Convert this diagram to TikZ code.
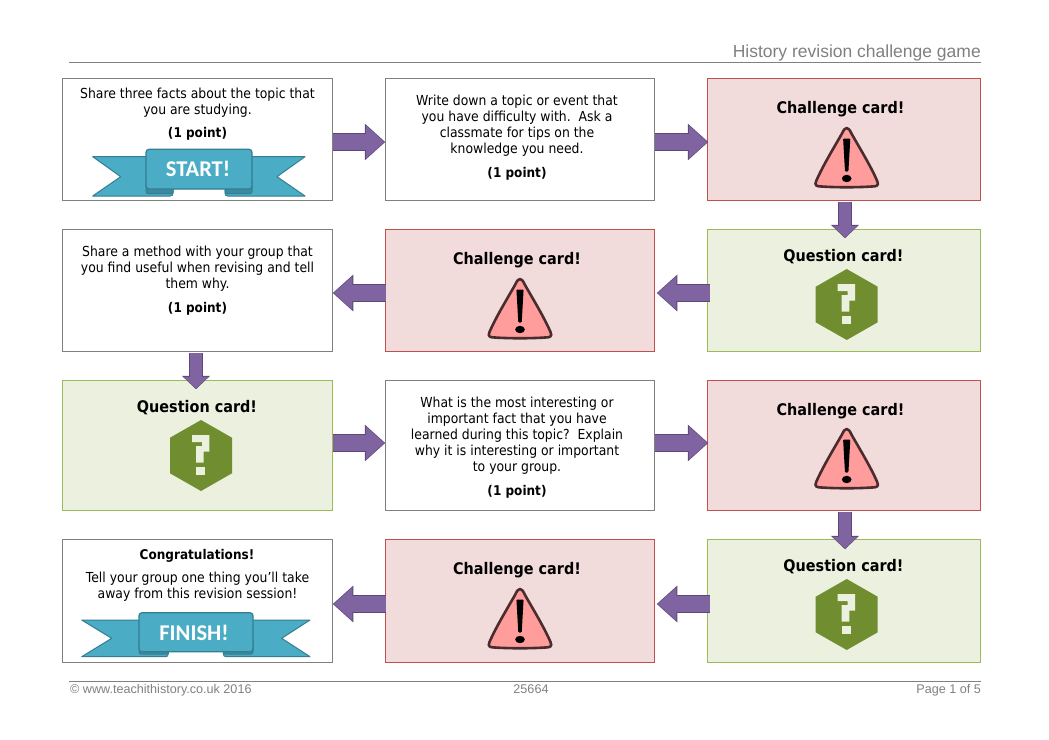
\documentclass[tikz,border=0pt]{standalone}
\usepackage{fontspec}
\setmainfont{DejaVu Sans}[FakeStretch=0.9]
\newfontfamily\headfont{Liberation Sans}
\newfontfamily\ribbonfont{Carlito}
\usetikzlibrary{arrows.meta}
\definecolor{rulegrey}{HTML}{808080}
\definecolor{pinkfill}{HTML}{F2DCDB}
\definecolor{pinkline}{HTML}{C0504D}
\definecolor{greenfill}{HTML}{EBF1DE}
\definecolor{greenline}{HTML}{9BBB59}
\definecolor{hexgreen}{HTML}{708D2F}
\definecolor{arrowfill}{HTML}{8064A2}
\definecolor{arrowline}{HTML}{5C4776}
\definecolor{warnfill}{HTML}{FF9C9C}
\definecolor{warnline}{HTML}{4A2C2E}
\definecolor{ribbonfill}{HTML}{4BACC6}
\definecolor{ribbonline}{HTML}{357D91}
\definecolor{ribbonfold}{HTML}{3C8A9F}
\tikzset{
  card/.style={inner sep=0pt, outer sep=0pt, line width=1pt, minimum width=270.5pt, minimum height=122.5pt},
  plaincard/.style={card, draw=rulegrey, fill=white},
  redcard/.style={card, draw=pinkline, fill=pinkfill},
  greencard/.style={card, draw=greenline, fill=greenfill},
  cardtext/.style={inner sep=0pt, align=center, font=\fontsize{13.8}{16}\selectfont},
  pointtext/.style={inner sep=0pt, font=\fontsize{13.4}{16}\selectfont\bfseries},
  cardtitle/.style={inner sep=0pt, font=\fontsize{16}{18}\selectfont\bfseries},
  ribbontext/.style={inner sep=0pt, text=white, font=\ribbonfont\fontsize{22.5}{24}\selectfont\bfseries},
  ribbontail/.style={draw=ribbonline, fill=ribbonfill, line width=1pt, line join=round},
  ribbonband/.style={draw=ribbonline, fill=ribbonfill, line width=1.2pt, rounded corners=3pt},
  ribbondark/.style={draw=ribbonline, fill=ribbonfold, line width=1pt, rounded corners=2pt},
  footertext/.style={inner sep=0pt, text=rulegrey, font=\headfont\fontsize{12.6}{14}\selectfont},
  flow/.style={line width=15.5pt, draw=arrowfill, shorten >=1pt, shorten <=0.7pt,
    -{Triangle[length=18.5pt,width=32pt,fill=arrowfill,color=arrowfill]},
    preaction={draw=arrowline, line width=17.5pt, shorten >=0pt, shorten <=0pt,
      -{Triangle[length=20.5pt,width=35.5pt,fill=arrowline,color=arrowline]}}},
  flowdown/.style={line width=11.5pt, draw=arrowfill, shorten >=1pt, shorten <=0.7pt,
    -{Triangle[length=11.5pt,width=24.5pt,fill=arrowfill,color=arrowfill]},
    preaction={draw=arrowline, line width=13.5pt, shorten >=0pt, shorten <=0pt,
      -{Triangle[length=13.5pt,width=27.5pt,fill=arrowline,color=arrowline]}}},
  warnsign/.pic={
    \draw [warnline, fill=warnfill, line width=2.6pt, line join=round]
      (0,-29) .. controls (2,-29) and (3,-27) .. (5,-23)
      .. controls (13,-9) and (24,9) .. (30.5,24)
      .. controls (33,29) and (29,29.5) .. (25,29.5)
      .. controls (10,30.5) and (-10,30.5) .. (-25,29.5)
      .. controls (-29,29.5) and (-33,29) .. (-30.5,24)
      .. controls (-24,9) and (-13,-9) .. (-5,-23)
      .. controls (-3,-27) and (-2,-29) .. (0,-29) -- cycle;
    \fill [black, rounded corners=1pt] (-3.6,-18.5) -- (3.6,-18.5) -- (1.7,14.5) -- (-1.7,14.5) -- cycle;
    \fill [black] (0,21.5) ellipse [x radius=4.8, y radius=3.7];
  },
  asksign/.pic={
    \fill [hexgreen] (0,-35.5) -- (31,-17.8) -- (31,17.8) -- (0,35.5) -- (-31,17.8) -- (-31,-17.8) -- cycle;
    \fill [greenfill] (-9,-20.5) -- (8.3,-20.5) -- (8.3,-3.8) -- (2.7,-3.8) -- (2.7,7.2) -- (-5,7.2)
      -- (-5,-9.5) -- (1,-9.5) -- (1,-13.5) -- (-9,-13.5) -- cycle;
    \fill [greenfill] (-5,11.5) rectangle (4,19.5);
  }
}

\begin{document}
\begin{tikzpicture}[x=1pt, y=-1pt]
\useasboundingbox (0,0) rectangle (1049,739);

% header and footer
\draw [rulegrey, line width=1pt] (69,62.5) -- (981,62.5);
\draw [rulegrey, line width=1pt] (69,681) -- (981,681);
\node [inner sep=0pt, anchor=base east, text=rulegrey, font=\headfont\fontsize{17.5}{20}\selectfont] (pagetitle) at (981,57) {History revision challenge game};
\node [footertext, anchor=base west] (copyright) at (70,693.5) {© www.teachithistory.co.uk 2016};
\node [footertext, anchor=base] (docnumber) at (531,693.5) {25664};
\node [footertext, anchor=base east] (pagenumber) at (981,693.5) {Page 1 of 5};

% cards
\node [plaincard] (startcard) at (197.5,139.5) {};
\node [plaincard, minimum width=269.5pt] (writecard) at (520,139.5) {};
\node [redcard, minimum width=273.5pt] (redone) at (844,139.5) {};
\node [greencard, minimum width=273.5pt] (greenone) at (844,290.5) {};
\node [redcard, minimum width=269.5pt] (redtwo) at (520,290.5) {};
\node [plaincard] (methodcard) at (197.5,290.5) {};
\node [greencard, minimum height=130.5pt] (greentwo) at (197.5,445.5) {};
\node [plaincard, minimum width=269.5pt, minimum height=130.5pt] (factcard) at (520,445.5) {};
\node [redcard, minimum width=273.5pt, minimum height=130.5pt] (redthree) at (844,445.5) {};
\node [greencard, minimum width=273.5pt, minimum height=123.5pt] (greenthree) at (844,601) {};
\node [redcard, minimum width=269.5pt, minimum height=123.5pt] (redfour) at (520,601) {};
\node [plaincard, minimum height=123.5pt] (finishcard) at (197.5,601) {};

% flow arrows
\draw [flow] ([yshift=-2.5pt]startcard.east) -- ([yshift=-2.5pt]writecard.west);
\draw [flow] ([yshift=-2.5pt]writecard.east) -- ([yshift=-2.5pt,xshift=1pt]redone.west);
\draw [flowdown] ([xshift=1pt,yshift=-1pt]redone.south) -- ([xshift=1pt,yshift=-9pt]greenone.north);
\draw [flow] ([xshift=3pt,yshift=-2.5pt]greenone.west) -- ([xshift=2pt,yshift=-2.5pt]redtwo.east);
\draw [flow] ([xshift=1pt,yshift=-2.5pt]redtwo.west) -- ([yshift=-2.5pt]methodcard.east);
\draw [flowdown] ([xshift=-1.5pt,yshift=-1pt]methodcard.south) -- ([xshift=-1.5pt,yshift=-9pt]greentwo.north);
\draw [flow] ([yshift=2.5pt]greentwo.east) -- ([yshift=2.5pt]factcard.west);
\draw [flow] ([yshift=2.5pt]factcard.east) -- ([yshift=2.5pt,xshift=1pt]redthree.west);
\draw [flowdown] ([xshift=1pt,yshift=-1pt]redthree.south) -- ([xshift=1pt,yshift=-10pt]greenthree.north);
\draw [flow] ([xshift=3pt,yshift=-3pt]greenthree.west) -- ([xshift=2pt,yshift=-3pt]redfour.east);
\draw [flow] ([xshift=1pt,yshift=-3pt]redfour.west) -- ([yshift=-3pt]finishcard.east);

% card texts
\node [cardtext] (starttext) at (197.5,102.5) {Share three facts about the topic that\\you are studying.};
\node [pointtext] (startpoint) at (197.5,133.5) {(1 point)};
\node [cardtext] (writetext) at (517,125.5) {Write down a topic or event that\\you have difficulty with.\ \ Ask a\\classmate for tips on the\\knowledge you need.};
\node [pointtext] (writepoint) at (517,173.5) {(1 point)};
\node [cardtext] (methodtext) at (197.5,268.5) {Share a method with your group that\\you find useful when revising and tell\\them why.};
\node [pointtext] (methodpoint) at (197.5,308.5) {(1 point)};
\node [cardtext] (facttext) at (517,435.5) {What is the most interesting or\\important fact that you have\\learned during this topic?\ \ Explain\\why it is interesting or important\\to your group.};
\node [pointtext] (factpoint) at (517,491.5) {(1 point)};
\node [pointtext] (finishhead) at (197,555.5) {Congratulations!};
\node [cardtext] (finishtext) at (197.5,586.5) {Tell your group one thing you’ll take\\away from this revision session!};

\node [cardtitle] (redonetitle) at (840.5,109.5) {Challenge card!};
\node [cardtitle] (redtwotitle) at (517,260.5) {Challenge card!};
\node [cardtitle] (redthreetitle) at (840.5,411.5) {Challenge card!};
\node [cardtitle] (redfourtitle) at (517,570.5) {Challenge card!};
\node [cardtitle] (greenonetitle) at (843.5,257) {Question card!};
\node [cardtitle] (greentwotitle) at (197,408) {Question card!};
\node [cardtitle] (greenthreetitle) at (843.5,567) {Question card!};

% icons
\pic at (846.7,157) {warnsign};
\pic at (520,308) {warnsign};
\pic at (846.7,458) {warnsign};
\pic at (520,618) {warnsign};
\pic at (846.7,304.5) {asksign};
\pic at (201,455.5) {asksign};
\pic at (846.7,614.5) {asksign};

% start ribbon
\draw [ribbontail] (92.7,156.7) -- (152,156.7) -- (152,180) -- (173,180) -- (173,193) .. controls (173,195) and (172,196) .. (170,196) -- (92.7,196) -- (120.7,176.7) -- cycle;
\draw [ribbontail] (305,156.7) -- (246,156.7) -- (246,180) -- (225,180) -- (225,193) .. controls (225,195) and (226,196) .. (228,196) -- (305,196) -- (277,176.7) -- cycle;
\draw [ribbondark] (146,180) -- (146,193.5) -- (173,193.5) -- (173,180) -- cycle;
\draw [ribbondark] (252,180) -- (252,193.5) -- (225,193.5) -- (225,180) -- cycle;
\draw [ribbonband] (146,149.3) rectangle (252,189);
\node [ribbontext] (startlabel) at (198,168.5) {START!};

% finish ribbon
\draw [ribbontail] (81.7,620) -- (145,620) -- (145,640) -- (168.3,640) -- (168.3,653.7) .. controls (168.3,655.7) and (167.3,656.7) .. (165.3,656.7) -- (81.7,656.7) -- (111.7,638.3) -- cycle;
\draw [ribbontail] (310,620) -- (247,620) -- (247,640) -- (223.3,640) -- (223.3,653.7) .. controls (223.3,655.7) and (224.3,656.7) .. (226.3,656.7) -- (310,656.7) -- (281.7,638.3) -- cycle;
\draw [ribbondark] (139,640) -- (139,654) -- (168.3,654) -- (168.3,640) -- cycle;
\draw [ribbondark] (253,640) -- (253,654) -- (223.3,654) -- (223.3,640) -- cycle;
\draw [ribbonband] (139,612.7) rectangle (253,651.7);
\node [ribbontext] (finishlabel) at (194,632.5) {FINISH!};
\end{tikzpicture}
\end{document}
